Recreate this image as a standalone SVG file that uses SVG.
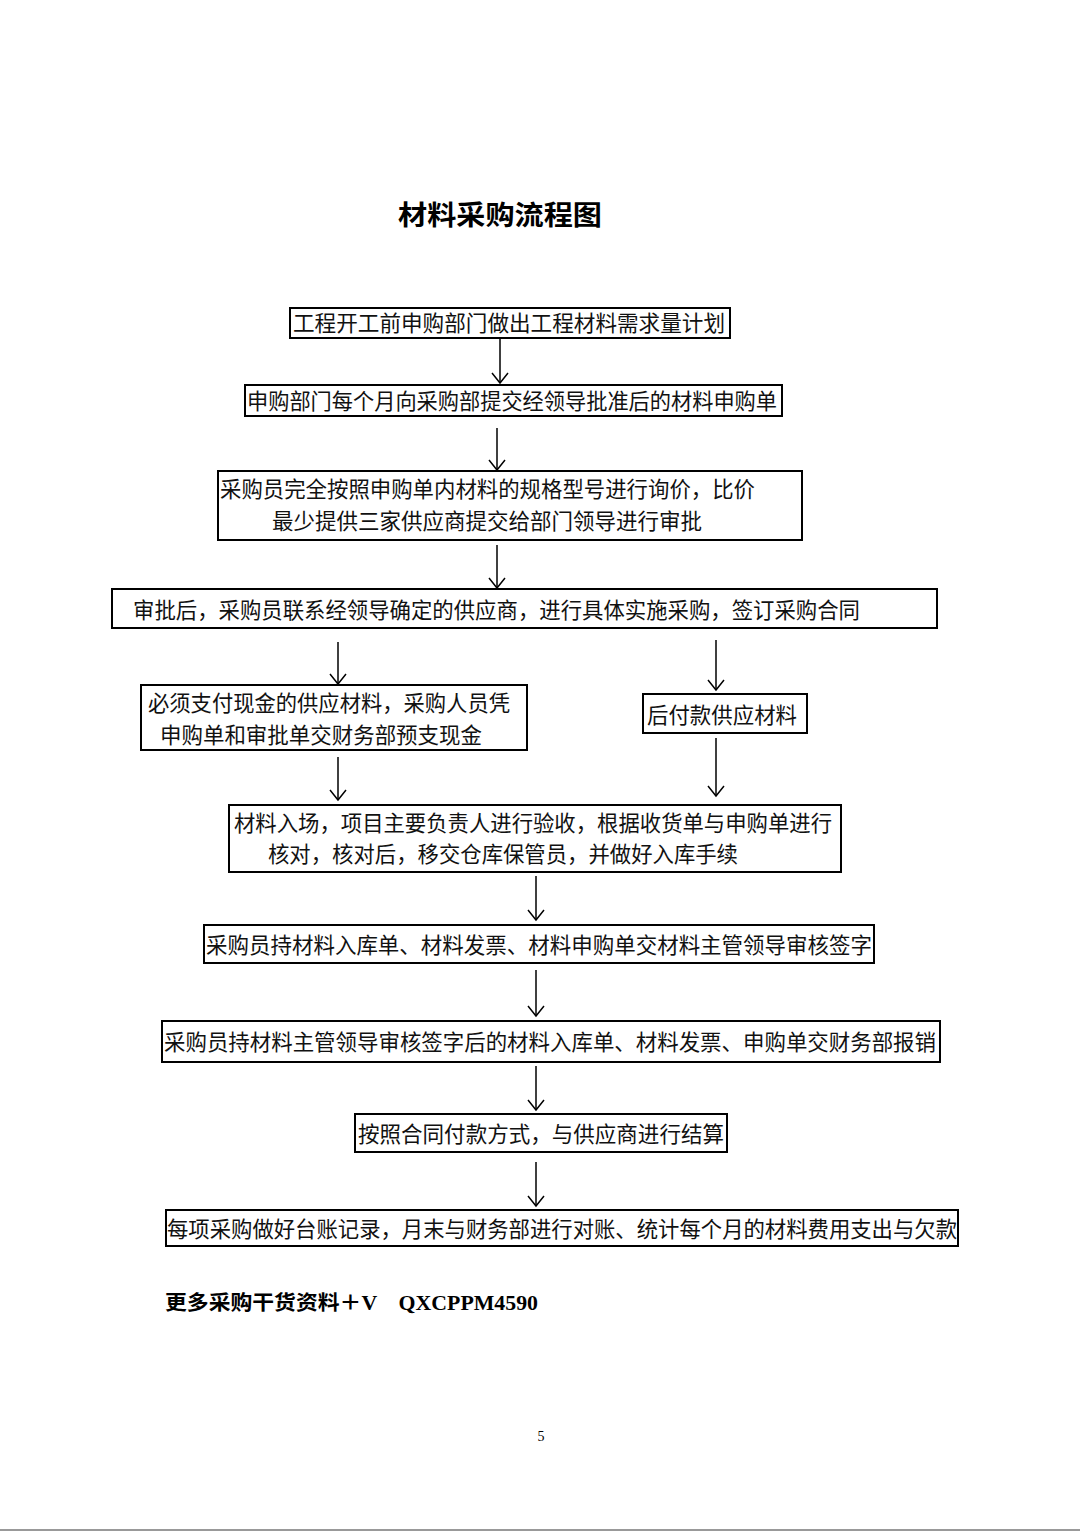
<svg xmlns="http://www.w3.org/2000/svg" width="1080" height="1532" viewBox="0 0 1080 1532">
<style>
.b{fill:#fff;stroke:#000;stroke-width:2}
.t{font-family:"Noto Sans CJK SC","Liberation Sans",sans-serif;font-size:22px;fill:#111}
.c line{stroke:#000;stroke-width:1.5}
.c path{fill:none;stroke:#000;stroke-width:1.5}
</style>
<rect width="1080" height="1532" fill="#fff"/>
<text x="398" y="225" textLength="204" lengthAdjust="spacingAndGlyphs" style="font-family:'Noto Sans CJK SC',sans-serif;font-size:27px;font-weight:bold">材料采购流程图</text>
<g id="n1"><rect class="b" x="290" y="308" width="440" height="30"/><text class="t" x="293" y="331" textLength="432" lengthAdjust="spacingAndGlyphs">工程开工前申购部门做出工程材料需求量计划</text></g>
<g id="n2"><rect class="b" x="245" y="385" width="537" height="31"/><text class="t" x="247" y="409" textLength="530" lengthAdjust="spacingAndGlyphs">申购部门每个月向采购部提交经领导批准后的材料申购单</text></g>
<g id="n3"><rect class="b" x="218" y="471" width="584" height="69"/><text class="t" x="220" y="497" textLength="535" lengthAdjust="spacingAndGlyphs">采购员完全按照申购单内材料的规格型号进行询价，比价</text><text class="t" x="272" y="529" textLength="430" lengthAdjust="spacingAndGlyphs">最少提供三家供应商提交给部门领导进行审批</text></g>
<g id="n4"><rect class="b" x="112" y="589" width="825" height="39"/><text class="t" x="133" y="618" textLength="727" lengthAdjust="spacingAndGlyphs">审批后，采购员联系经领导确定的供应商，进行具体实施采购，签订采购合同</text></g>
<g id="n5"><rect class="b" x="141" y="685" width="386" height="65"/><text class="t" x="148" y="711" textLength="362" lengthAdjust="spacingAndGlyphs">必须支付现金的供应材料，采购人员凭</text><text class="t" x="160" y="743" textLength="322" lengthAdjust="spacingAndGlyphs">申购单和审批单交财务部预支现金</text></g>
<g id="n6"><rect class="b" x="643" y="694" width="164" height="39"/><text class="t" x="647" y="723" textLength="150" lengthAdjust="spacingAndGlyphs">后付款供应材料</text></g>
<g id="n7"><rect class="b" x="229" y="805" width="612" height="67"/><text class="t" x="234" y="831" textLength="598" lengthAdjust="spacingAndGlyphs">材料入场，项目主要负责人进行验收，根据收货单与申购单进行</text><text class="t" x="268" y="862" textLength="470" lengthAdjust="spacingAndGlyphs">核对，核对后，移交仓库保管员，并做好入库手续</text></g>
<g id="n8"><rect class="b" x="204" y="925" width="670" height="38"/><text class="t" x="206" y="953" textLength="666" lengthAdjust="spacingAndGlyphs">采购员持材料入库单、材料发票、材料申购单交材料主管领导审核签字</text></g>
<g id="n9"><rect class="b" x="162" y="1021" width="778" height="41"/><text class="t" x="164" y="1050" textLength="772" lengthAdjust="spacingAndGlyphs">采购员持材料主管领导审核签字后的材料入库单、材料发票、申购单交财务部报销</text></g>
<g id="n10"><rect class="b" x="355" y="1114" width="372" height="38"/><text class="t" x="358" y="1142" textLength="366" lengthAdjust="spacingAndGlyphs">按照合同付款方式，与供应商进行结算</text></g>
<g id="n11"><rect class="b" x="166" y="1210" width="792" height="36"/><text class="t" x="167" y="1237" textLength="790" lengthAdjust="spacingAndGlyphs">每项采购做好台账记录，月末与财务部进行对账、统计每个月的材料费用支出与欠款</text></g>
<g class="c" id="connectors">
<line x1="500" y1="338" x2="500" y2="383"/><path d="M492 373 L500 383 L508 373"/>
<line x1="497" y1="428" x2="497" y2="470"/><path d="M489 460 L497 470 L505 460"/>
<line x1="497" y1="545" x2="497" y2="588"/><path d="M489 578 L497 588 L505 578"/>
<line x1="338" y1="642" x2="338" y2="684"/><path d="M330 674 L338 684 L346 674"/>
<line x1="716" y1="640" x2="716" y2="690"/><path d="M708 680 L716 690 L724 680"/>
<line x1="338" y1="757" x2="338" y2="800"/><path d="M330 790 L338 800 L346 790"/>
<line x1="716" y1="738" x2="716" y2="796"/><path d="M708 786 L716 796 L724 786"/>
<line x1="536" y1="876" x2="536" y2="920"/><path d="M528 910 L536 920 L544 910"/>
<line x1="536" y1="970" x2="536" y2="1016"/><path d="M528 1006 L536 1016 L544 1006"/>
<line x1="536" y1="1066" x2="536" y2="1110"/><path d="M528 1100 L536 1110 L544 1100"/>
<line x1="536" y1="1162" x2="536" y2="1206"/><path d="M528 1196 L536 1206 L544 1196"/>
</g>
<text x="165" y="1310" textLength="373" lengthAdjust="spacingAndGlyphs" style="font-family:'Liberation Serif','Noto Sans CJK SC',serif;font-size:20px;font-weight:bold">更多采购干货资料＋V　QXCPPM4590</text>
<text x="541" y="1441" text-anchor="middle" style="font-family:'Liberation Serif',serif;font-size:14px">5</text>
<line x1="0" y1="1530" x2="1080" y2="1530" stroke="#999" stroke-width="2"/>
</svg>
